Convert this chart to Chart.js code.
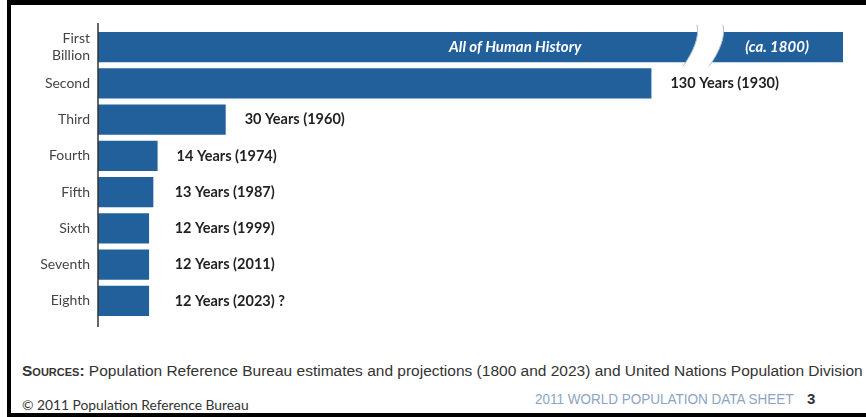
<!DOCTYPE html>
<html>
<head>
<meta charset="utf-8">
<script src="https://cdn.jsdelivr.net/npm/chart.js@4"></script>
<style>
  html, body { margin: 0; padding: 0; background: #fff; }
  #page { position: relative; width: 866px; height: 417px; overflow: hidden; }
  #frame { position: absolute; left: 7px; top: 0; width: 855px; height: 408px;
           border-left: 4px solid #000; border-top: 5px solid #000; border-bottom: 4px solid #000; }
  #chartBox { position: absolute; left: 0; top: 0; width: 866px; height: 340px; }
  #sources { position: absolute; left: 22px; top: 362px; white-space: nowrap;
             font: 15.5px "Liberation Sans", Arial, sans-serif; color: #333; }
  #sources b { font-variant: small-caps; }
  #copy { position: absolute; left: 22px; top: 396px; font: 13.8px Lato, sans-serif; color: #333; }
  #sheet { position: absolute; left: 535px; top: 390px; white-space: nowrap; transform: scaleX(0.9);
           transform-origin: left top;
           font: 15px "Liberation Sans Narrow", "Liberation Sans", sans-serif; color: #8aa5c4; }
  #pageNo { position: absolute; left: 807px; top: 390px; font: bold 15px "Liberation Sans", sans-serif; color: #333; }
</style>
</head>
<body>
<div id="page">
  <div id="frame"></div>
  <div id="chartBox"><canvas id="popChart" width="866" height="340"></canvas></div>
  <div id="sources"><b>Sources:</b> Population Reference Bureau estimates and projections (1800 and 2023) and United Nations Population Division</div>
  <div id="copy">© 2011 Population Reference Bureau</div>
  <div id="sheet">2011 WORLD POPULATION DATA SHEET</div>
  <div id="pageNo">3</div>
</div>
<script>
var billions = [['First', 'Billion'], 'Second', 'Third', 'Fourth', 'Fifth', 'Sixth', 'Seventh', 'Eighth'];
// years needed to add each billion (first bar is drawn long and broken)
var years = [175, 130, 30, 14, 13, 12, 12, 12];
var yearLabels = ['', '130 Years (1930)', '30 Years (1960)', '14 Years (1974)', '13 Years (1987)',
                  '12 Years (1999)', '12 Years (2011)', '12 Years (2023) ?'];

var barBlue = '#22609c';

// draws the axis line, the break in the first bar and the value labels
var decorations = {
  id: 'decorations',
  afterDatasetsDraw: function(chart) {
    var ctx = chart.ctx;
    var area = chart.chartArea;
    var x = chart.scales.x;
    var meta = chart.getDatasetMeta(0);

    ctx.save();
    // y axis line
    ctx.strokeStyle = '#333';
    ctx.lineWidth = 1.5;
    ctx.beginPath();
    ctx.moveTo(area.left, area.top - 6);
    ctx.lineTo(area.left, area.bottom + 8);
    ctx.stroke();

    // break in the first bar
    var first = meta.data[0];
    var bx = x.getPixelForValue(140.7);
    var top = first.y - first.height / 2 - 7;
    var bot = first.y + first.height / 2 + 4;
    var gap = 26;
    function leftCurve(dx) {
      ctx.bezierCurveTo(bx + dx + 3, top + 12, bx + dx - 4, bot - 14, bx + dx - 14, bot);
    }
    ctx.beginPath();
    ctx.moveTo(bx, top);
    leftCurve(0);
    ctx.lineTo(bx + gap - 14, bot);
    ctx.bezierCurveTo(bx + gap - 4, bot - 14, bx + gap + 3, top + 12, bx + gap, top);
    ctx.closePath();
    ctx.fillStyle = '#fff';
    ctx.fill();
    ctx.strokeStyle = '#a9bdd2';
    ctx.lineWidth = 1;
    ctx.beginPath();
    ctx.moveTo(bx, top);
    leftCurve(0);
    ctx.moveTo(bx + gap, top);
    leftCurve(gap);
    ctx.stroke();

    // text inside the first bar
    ctx.fillStyle = '#fff';
    ctx.font = 'italic bold 15px Lato, sans-serif';
    ctx.textAlign = 'center';
    ctx.textBaseline = 'middle';
    ctx.fillText('All of Human History', x.getPixelForValue(98), first.y);
    ctx.fillText('(ca. 1800)', x.getPixelForValue(159.5), first.y);

    // value labels
    ctx.fillStyle = '#222';
    ctx.font = 'bold 14.5px Lato, sans-serif';
    ctx.textAlign = 'left';
    var minX = x.getPixelForValue(18);
    meta.data.forEach(function(bar, i) {
      if (!yearLabels[i]) return;
      var lx = Math.max(bar.x + 19, minX);
      ctx.fillText(yearLabels[i], lx, bar.y);
    });
    ctx.restore();
  }
};

var ctx = document.getElementById('popChart').getContext('2d');
var popChart = new Chart(ctx, {
  type: 'bar',
  data: {
    labels: billions,
    datasets: [{
      data: years,
      backgroundColor: barBlue,
      categoryPercentage: 1,
      barPercentage: 0.84
    }]
  },
  options: {
    indexAxis: 'y',
    responsive: false,
    animation: false,
    layout: { padding: { left: 0, right: 23, top: 29, bottom: 21 } },
    plugins: { legend: { display: false }, tooltip: { enabled: false } },
    scales: {
      x: { display: false, min: 0, max: 175 },
      y: {
        afterFit: function(scale) {
          scale.width = 98;
          scale.paddingTop = 0;
          scale.paddingBottom = 0;
        },
        grid: { display: false, drawTicks: false },
        border: { display: false },
        ticks: { autoSkip: false, color: '#444', padding: 8, font: { family: 'Lato, sans-serif', size: 14 } }
      }
    }
  },
  plugins: [decorations]
});
</script>
</body>
</html>
